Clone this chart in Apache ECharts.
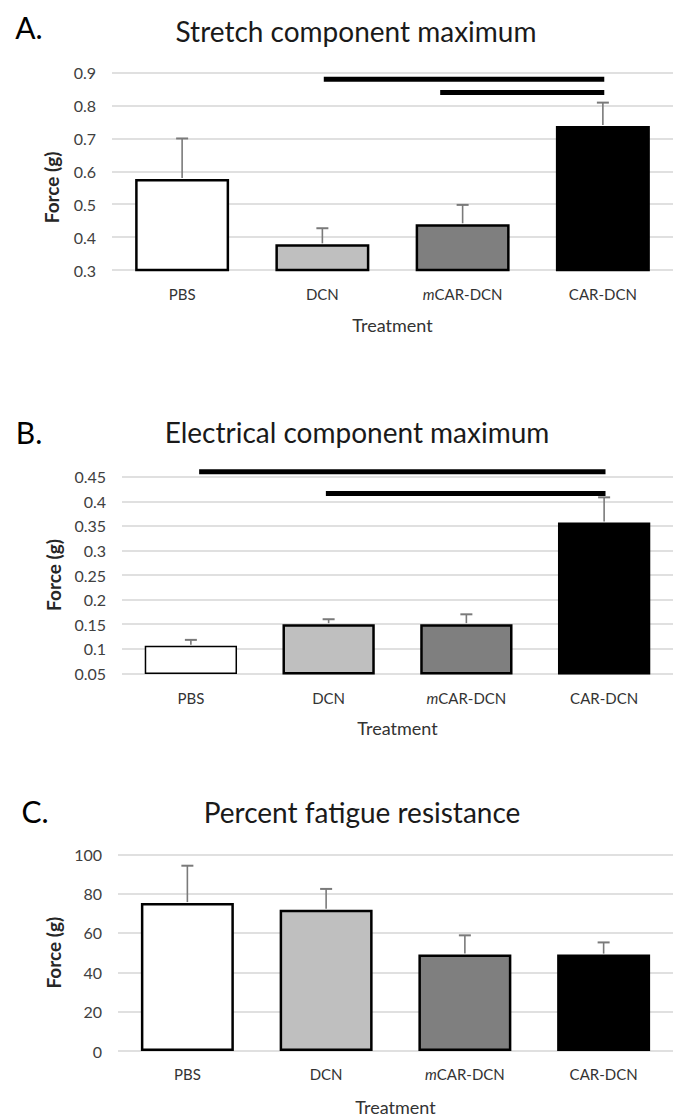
<!DOCTYPE html>
<html><head><meta charset="utf-8">
<script src="https://cdn.jsdelivr.net/npm/echarts@6/dist/echarts.min.js"></script>
<style>html,body{margin:0;padding:0;background:#fff}#c{width:673px;height:1117px}</style>
</head><body><div id="c"></div>
<script>
// ---- data ----
const categories = ['PBS', 'DCN', 'mCAR-DCN', 'CAR-DCN'];
const stretchMean = [0.577, 0.378, 0.439, 0.738];
const stretchUpper = [0.700, 0.427, 0.498, 0.809];
const electricalMean = [0.106, 0.150, 0.150, 0.357];
const electricalUpper = [0.118, 0.160, 0.170, 0.408];
const fatigueMean = [75.2, 71.8, 49.0, 49.0];
const fatigueUpper = [94.2, 82.4, 58.8, 55.2];
// significance bars: [from category position, to category position, y value]
const stretchSig = [[1.01, 3.01, 0.880], [1.84, 3.01, 0.840]];
const electricalSig = [[0.06, 3.01, 0.460], [0.98, 3.01, 0.416]];
const fatigueSig = [];
const stretchTicks = [0.3, 0.4, 0.5, 0.6, 0.7, 0.8, 0.9];
const electricalTicks = [0.05, 0.1, 0.15, 0.2, 0.25, 0.3, 0.35, 0.4, 0.45];
const fatigueTicks = [0, 20, 40, 60, 80, 100];
const panelLetters = ['A.', 'B.', 'C.'];
const panelTitles = ['Stretch component maximum', 'Electrical component maximum', 'Percent fatigue resistance'];
const yName = 'Force (g)';
const xName = 'Treatment';

// ---- layout / style ----
const FONT = 'Lato';
const barColors = ['#ffffff', '#bfbfbf', '#7f7f7f', '#000000'];
const panels = [
  {mean: stretchMean, upper: stretchUpper, sig: stretchSig, ticks: stretchTicks,
   grid: {left: 112, top: 72.7, width: 568, height: 197.3}, yGap: 51, yPad: [0, 32, 0, 0],
   xMargin: 16, xGap: 46, border: [2.5, 2.5, 2.5, 2.5],
   letter: [29, 27], title: [356, 31]},
  {mean: electricalMean, upper: electricalUpper, sig: electricalSig, ticks: electricalTicks,
   grid: {left: 122, top: 476.7, width: 556, height: 196.6}, yGap: 57, yPad: 0,
   xMargin: 17, xGap: 46, border: [1.5, 2.5, 2.5, 2.5],
   letter: [29, 432], title: [357, 432]},
  {mean: fatigueMean, upper: fatigueUpper, sig: fatigueSig, ticks: fatigueTicks,
   grid: {left: 118, top: 854.3, width: 568, height: 197.4}, yGap: 52, yPad: 0,
   xMargin: 15, xGap: 47, border: [2.5, 2.5, 2.5, 2.5],
   letter: [35, 811], title: [362, 812]}
];

const grids = [], xAxes = [], yAxes = [], series = [], graphics = [];
panels.forEach((p, i) => {
  grids.push(Object.assign({containLabel: false}, p.grid));
  xAxes.push({
    type: 'category', gridIndex: i, data: categories,
    axisLine: {show: false}, axisTick: {show: false},
    axisLabel: {
      interval: 0, hideOverlap: false,
      margin: p.xMargin, fontFamily: FONT, fontSize: 15, color: '#333333',
      formatter: v => v.charAt(0) === 'm' ? '{it|m}{n|' + v.slice(1) + '}' : v,
      rich: {
        it: {fontFamily: FONT, fontSize: 15, fontStyle: 'italic', color: '#333333'},
        n: {fontFamily: FONT, fontSize: 15, color: '#333333'}
      }
    },
    name: xName, nameLocation: 'middle', nameGap: p.xGap,
    nameTextStyle: {fontFamily: FONT, fontSize: 18, color: '#333333'}
  });
  xAxes.push({type: 'value', gridIndex: i, min: -0.5, max: 3.5, show: false});
  const t = p.ticks;
  yAxes.push({
    type: 'value', gridIndex: i, min: t[0], max: t[t.length - 1], interval: t[1] - t[0],
    axisLine: {show: false}, axisTick: {show: false},
    splitLine: {show: true, lineStyle: {color: '#d6d6d6', width: 1.5}},
    axisLabel: {margin: 16, fontFamily: FONT, fontSize: 16, color: '#404040',
      formatter: v => String(+v.toFixed(2))},
    name: yName, nameLocation: 'middle', nameGap: p.yGap,
    nameTextStyle: {fontFamily: FONT, fontSize: 19, fontWeight: 'bold', color: '#262626', padding: p.yPad}
  });
  series.push({
    type: 'bar', xAxisIndex: 2 * i, yAxisIndex: i, barWidth: '67%', silent: true,
    data: p.mean.map((v, k) => ({value: v, itemStyle: {color: barColors[k], borderColor: '#000', borderWidth: p.border[k]}}))
  });
  series.push({
    type: 'custom', xAxisIndex: 2 * i, yAxisIndex: i, silent: true, z: 5,
    encode: {x: 0, y: [1, 2]},
    data: p.mean.map((v, k) => [k, v, p.upper[k]]),
    renderItem: (params, api) => {
      const x = api.value(0);
      const a = api.coord([x, api.value(1)]);
      const b = api.coord([x, api.value(2)]);
      return {type: 'group', children: [
        {type: 'line', shape: {x1: a[0], y1: a[1] - 1, x2: b[0], y2: b[1]}, style: {stroke: '#7a7a7a', lineWidth: 1.6}},
        {type: 'line', shape: {x1: b[0] - 6, y1: b[1], x2: b[0] + 6, y2: b[1]}, style: {stroke: '#7a7a7a', lineWidth: 2}}
      ]};
    }
  });
  p.sig.forEach(s => {
    series.push({
      type: 'line', xAxisIndex: 2 * i + 1, yAxisIndex: i, silent: true, z: 6,
      symbol: 'none', clip: false, animation: false,
      data: [[s[0], s[2]], [s[1], s[2]]],
      lineStyle: {color: '#000', width: 5, cap: 'butt'}
    });
  });
  graphics.push({type: 'text', x: p.letter[0], y: p.letter[1],
    style: {text: panelLetters[i], font: '30px ' + FONT, fill: '#000', align: 'center', verticalAlign: 'middle'}});
  graphics.push({type: 'text', x: p.title[0], y: p.title[1],
    style: {text: panelTitles[i], font: '28px ' + FONT, fill: '#1a1a1a', align: 'center', verticalAlign: 'middle'}});
});

const chart = echarts.init(document.getElementById('c'), null, {renderer: 'svg'});
chart.setOption({
  animation: false,
  backgroundColor: '#ffffff',
  grid: grids, xAxis: xAxes, yAxis: yAxes, series: series, graphic: graphics
});
</script></body></html>
